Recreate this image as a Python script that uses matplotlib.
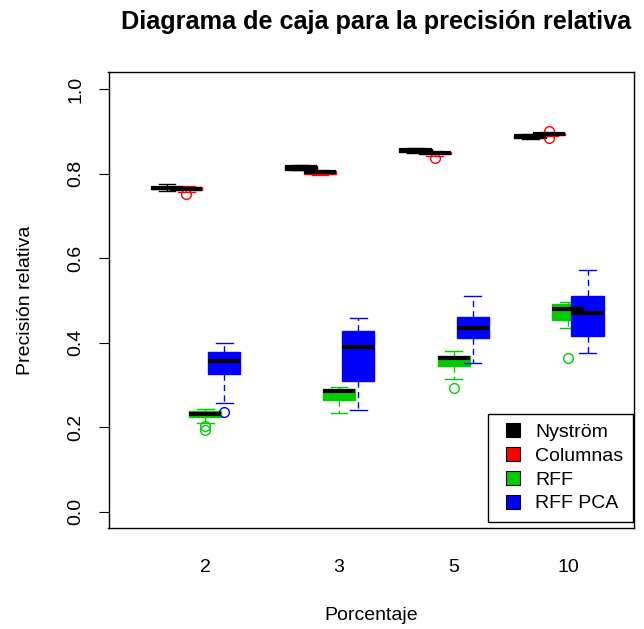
import matplotlib.pyplot as plt
from matplotlib.lines import Line2D

plt.rcParams['font.family'] = ['Liberation Sans', 'DejaVu Sans']

porcentajes = ['2', '3', '5', '10']
metodos = ['Nyström', 'Columnas', 'RFF', 'RFF PCA']
colores = ['#000000', '#FF0000', '#00CD00', '#0000FF']

# [bigote inferior, q1, mediana, q3, bigote superior] para 2, 3, 5, 10 %
nystrom = [[0.760, 0.763, 0.766, 0.769, 0.776],
           [0.808, 0.810, 0.815, 0.818, 0.820],
           [0.849, 0.852, 0.856, 0.859, 0.862],
           [0.882, 0.884, 0.889, 0.893, 0.895]]
columnas = [[0.758, 0.761, 0.765, 0.768, 0.770],
            [0.796, 0.799, 0.8035, 0.807, 0.809],
            [0.843, 0.846, 0.8485, 0.851, 0.853],
            [0.890, 0.892, 0.8935, 0.896, 0.898]]
rff = [[0.211, 0.2235, 0.231, 0.2384, 0.244],
       [0.234, 0.2644, 0.2857, 0.2905, 0.296],
       [0.315, 0.345, 0.363, 0.3693, 0.380],
       [0.434, 0.4538, 0.480, 0.491, 0.4957]]
rff_pca = [[0.2566, 0.326, 0.357, 0.379, 0.400],
           [0.2408, 0.310, 0.3906, 0.4285, 0.459],
           [0.3528, 0.412, 0.434, 0.4617, 0.5114],
           [0.3765, 0.416, 0.471, 0.5114, 0.572]]

# valores atipicos
out_nystrom = [[], [], [], []]
out_columnas = [[0.751], [], [0.838], [0.902, 0.885]]
out_rff = [[0.203, 0.194], [], [0.2936], [0.363]]
out_rff_pca = [[0.2367], [], [], []]

inicio_grupo = [1, 8, 14, 20]

fig = plt.figure(figsize=(6.44, 6.29), dpi=100)
ax = fig.add_axes([108.5 / 644, 1 - 528 / 629, 525.5 / 644, 456 / 629])

series = [nystrom, columnas, rff, rff_pca]
atipicos = [out_nystrom, out_columnas, out_rff, out_rff_pca]
for m, (datos, outs, col) in enumerate(zip(series, atipicos, colores)):
    stats = []
    for g, d in enumerate(datos):
        stats.append(dict(whislo=d[0], q1=d[1], med=d[2], q3=d[3], whishi=d[4],
                          fliers=outs[g]))
    pos = [s + m for s in inicio_grupo]
    ax.bxp(stats, positions=pos, widths=1.68, capwidths=0.88, patch_artist=True,
           boxprops=dict(facecolor=col, edgecolor=col, linewidth=1),
           medianprops=dict(color='black', linewidth=3, solid_capstyle='butt'),
           whiskerprops=dict(color=col, linewidth=1, linestyle=(0, (4.5, 3))),
           capprops=dict(color=col, linewidth=1),
           flierprops=dict(marker='o', markerfacecolor='none', markeredgecolor=col,
                           markersize=7, markeredgewidth=1))

fs = 14
ax.set_xlim(-2.06, 25.43)
ax.set_ylim(-0.0386, 1.041)
ax.set_xticks([s + 2 for s in inicio_grupo])
ax.set_xticklabels(porcentajes, fontsize=fs)
ax.tick_params(axis='x', length=0, pad=22)
ax.set_yticks([0.0, 0.2, 0.4, 0.6, 0.8, 1.0])
ax.set_yticklabels(['0.0', '0.2', '0.4', '0.6', '0.8', '1.0'], fontsize=fs,
                   rotation=90, va='center')
ax.tick_params(axis='y', length=7.5, width=0.8, pad=10)
for sp in ax.spines.values():
    sp.set_linewidth(1)

ax.set_xlabel('Porcentaje', fontsize=fs, va='center')
ax.xaxis.set_label_coords(0.5, -0.191)
ax.set_ylabel('Precisión relativa', fontsize=fs, va='center')
ax.yaxis.set_label_coords(-0.158, 0.5)
fig.text(376 / 644, 1 - 22 / 629, 'Diagrama de caja para la precisión relativa',
         fontsize=18.2, fontweight='bold', ha='center', va='center')

handles = [Line2D([], [], linestyle='none', marker='s', markersize=9.5,
                  markerfacecolor=c, markeredgecolor='black', markeredgewidth=0.8)
           for c in colores]
leg = ax.legend(handles, metodos, loc='lower right', bbox_to_anchor=(0.998, 0.013),
                borderaxespad=0, fontsize=fs, fancybox=False, edgecolor='black',
                framealpha=1, handlelength=1.63, labelspacing=0.32,
                handletextpad=0.31, borderpad=0.5)
leg.get_frame().set_linewidth(1)

fig.savefig('out.png', dpi=100)
